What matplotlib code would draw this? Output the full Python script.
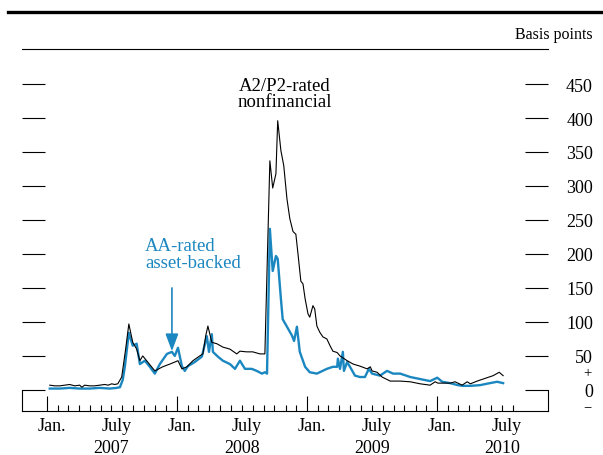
import matplotlib
matplotlib.use('Agg')
import matplotlib.pyplot as plt
import matplotlib.dates as mdates
import matplotlib.transforms as mtransforms
from matplotlib.lines import Line2D
import pandas as pd

plt.rcParams['font.family'] = ['Liberation Serif', 'DejaVu Serif']

# ---------------- data (basis points) ----------------
a2p2_dates = ['2007-01-09', '2007-01-23', '2007-02-06', '2007-02-20', '2007-03-06', '2007-03-20',
              '2007-04-03', '2007-04-09', '2007-04-17', '2007-05-01', '2007-05-15', '2007-05-29',
              '2007-06-12', '2007-06-22', '2007-07-02', '2007-07-10', '2007-07-19', '2007-07-30',
              '2007-08-10', '2007-08-19', '2007-08-30', '2007-09-10', '2007-09-19', '2007-09-27',
              '2007-10-11', '2007-10-31', '2007-11-22', '2007-12-12', '2007-12-26', '2008-01-04',
              '2008-01-15', '2008-01-29', '2008-02-15', '2008-03-05', '2008-03-14', '2008-03-22',
              '2008-03-28', '2008-04-08', '2008-04-22', '2008-05-09', '2008-05-29', '2008-06-17',
              '2008-06-26', '2008-07-15', '2008-08-01', '2008-08-21', '2008-09-04', '2008-09-18',
              '2008-09-26', '2008-10-05', '2008-10-10', '2008-10-19', '2008-10-27', '2008-11-05',
              '2008-11-13', '2008-11-22', '2008-11-30', '2008-12-06', '2008-12-14', '2008-12-20',
              '2008-12-26', '2009-01-03', '2009-01-08', '2009-01-17', '2009-01-22', '2009-01-28',
              '2009-02-05', '2009-02-14', '2009-02-25', '2009-03-06', '2009-03-14', '2009-03-26',
              '2009-04-03', '2009-04-23', '2009-05-10', '2009-05-29', '2009-06-18', '2009-06-27',
              '2009-07-02', '2009-07-16', '2009-07-30', '2009-08-22', '2009-09-19', '2009-10-17',
              '2009-11-14', '2009-12-12', '2009-12-26', '2010-01-03', '2010-02-06', '2010-02-20',
              '2010-03-12', '2010-03-26', '2010-04-04', '2010-04-23', '2010-05-21', '2010-06-07',
              '2010-06-24', '2010-07-05']
a2p2_values = [7, 6, 6, 7, 8, 6,
               7, 4, 7, 6, 6, 7,
               8, 7, 9, 8, 9, 19,
               60, 97, 70, 60, 43, 50,
               41, 28, 34, 38, 41, 43,
               31, 34, 43, 50, 53, 80,
               94, 70, 68, 63, 60, 53,
               57, 56, 56, 53, 53, 337,
               297, 318, 396, 352, 330, 281,
               252, 233, 229, 200, 160, 156,
               134, 112, 107, 124, 119, 94,
               85, 78, 75, 65, 57, 55,
               50, 43, 38, 35, 31, 34,
               28, 26, 19, 13, 13, 12,
               9, 7, 12, 10, 10, 12,
               7, 12, 9, 13, 18, 21,
               26, 21]

aa_abs_dates = ['2007-01-09', '2007-02-06', '2007-03-06', '2007-04-03', '2007-05-01', '2007-05-29',
                '2007-06-26', '2007-07-16', '2007-07-25', '2007-08-02', '2007-08-08', '2007-08-19',
                '2007-08-30', '2007-09-10', '2007-09-19', '2007-10-03', '2007-10-17', '2007-10-31',
                '2007-11-14', '2007-12-04', '2007-12-18', '2007-12-26', '2008-01-04', '2008-01-15',
                '2008-01-23', '2008-02-01', '2008-02-20', '2008-03-11', '2008-03-25', '2008-03-31',
                '2008-04-08', '2008-04-11', '2008-04-25', '2008-05-09', '2008-05-29', '2008-06-12',
                '2008-06-26', '2008-07-10', '2008-07-29', '2008-08-12', '2008-08-27', '2008-09-04',
                '2008-09-10', '2008-09-18', '2008-09-26', '2008-10-05', '2008-10-10', '2008-10-19',
                '2008-10-24', '2008-11-05', '2008-11-19', '2008-11-25', '2008-12-03', '2008-12-11',
                '2008-12-26', '2009-01-08', '2009-01-28', '2009-02-25', '2009-03-14', '2009-03-26',
                '2009-03-28', '2009-04-03', '2009-04-11', '2009-04-14', '2009-04-23', '2009-05-01',
                '2009-05-15', '2009-05-29', '2009-06-12', '2009-06-23', '2009-07-02', '2009-07-24',
                '2009-08-13', '2009-08-30', '2009-09-19', '2009-10-17', '2009-11-14', '2009-12-12',
                '2010-01-01', '2010-01-15', '2010-02-06', '2010-02-28', '2010-03-14', '2010-04-04',
                '2010-05-01', '2010-05-29', '2010-06-18', '2010-07-05']
aa_abs_values = [2, 2, 3, 2, 2, 3,
                 2, 3, 4, 15, 35, 84,
                 65, 68, 38, 43, 34, 24,
                 38, 53, 56, 50, 62, 35,
                 28, 35, 41, 49, 79, 56,
                 82, 56, 49, 43, 38, 31,
                 43, 31, 31, 28, 24, 26,
                 24, 237, 175, 197, 193, 134,
                 104, 93, 80, 72, 93, 56,
                 34, 26, 24, 31, 34, 34,
                 46, 31, 56, 28, 41, 34,
                 21, 19, 19, 31, 24, 21,
                 28, 24, 24, 19, 16, 13,
                 18, 12, 10, 7, 6, 6,
                 7, 10, 12, 10]

y_ticks = [0, 50, 100, 150, 200, 250, 300, 350, 400, 450]
month_label_dates = ['2007-01-15', '2007-07-15', '2008-01-15', '2008-07-15',
                     '2009-01-15', '2009-07-15', '2010-01-15', '2010-07-15']
month_labels = ['Jan.', 'July', 'Jan.', 'July', 'Jan.', 'July', 'Jan.', 'July']
year_label_dates = ['2007-07-01', '2008-07-01', '2009-07-01', '2010-07-01']
year_labels = ['2007', '2008', '2009', '2010']

BLUE = '#1b87c0'
W, H = 603, 456

fig = plt.figure(figsize=(W / 100, H / 100), dpi=100)
ax = fig.add_axes([22 / W, (H - 412) / H, (548 - 22) / W, (412 - 50) / H])

ax.plot(pd.to_datetime(a2p2_dates), a2p2_values, color='black', lw=0.8, zorder=3)
ax.plot(pd.to_datetime(aa_abs_dates), aa_abs_values, color=BLUE, lw=1.7, zorder=2)

ax.set_xlim(pd.Timestamp('2006-10-23'), pd.Timestamp('2010-11-08'))
ax.set_ylim(-31, 501.5)

# spines
for s in ['top', 'bottom']:
    ax.spines[s].set_linewidth(0.8)
for s in ['left', 'right']:
    ax.spines[s].set_linewidth(0.8)
    ax.spines[s].set_bounds(-31, 0)

# y ticks
ax.set_yticks(y_ticks)
ax.set_yticklabels([str(v) for v in y_ticks])
ax.tick_params(axis='y', which='major', direction='in', length=16.5, width=0.8,
               left=True, right=True, labelleft=False, labelright=True,
               pad=32.4, labelsize=13)
for t in ax.yaxis.get_major_ticks():
    t.label2.set_horizontalalignment('right')

# x ticks: tall at January, short at other months
jan_ticks = pd.date_range('2007-01-01', '2010-01-01', freq='YS')
month_ticks = [d for d in pd.date_range('2007-01-01', '2010-08-01', freq='MS') if d.month != 1]
ax.set_xticks(mdates.date2num(jan_ticks))
ax.set_xticks(mdates.date2num(month_ticks), minor=True)
ax.tick_params(axis='x', which='major', direction='in', length=11, width=0.8,
               labelbottom=False, top=False)
ax.tick_params(axis='x', which='minor', direction='in', length=4.5, width=0.8, top=False)

trans_x = mtransforms.blended_transform_factory(ax.transData, ax.transAxes)
for d, lab in zip(month_label_dates, month_labels):
    ax.text(pd.Timestamp(d), (412 - 431) / 362, lab, transform=trans_x,
            ha='center', va='baseline', fontsize=13)
for d, lab in zip(year_label_dates, year_labels):
    ax.text(pd.Timestamp(d), (412 - 453) / 362, lab, transform=trans_x,
            ha='center', va='baseline', fontsize=13)

# +/- signs around zero on the right axis
trans_fy = mtransforms.blended_transform_factory(fig.transFigure, ax.transData)
ax.text(587 / W, 25, '+', transform=trans_fy, ha='center', va='center', fontsize=10.5)
ax.text(587 / W, -14.5, '\u2212', transform=trans_fy, ha='center', va='top', fontsize=10.5)

# header
fig.add_artist(Line2D([8 / W, 1.0], [1 - 13 / H, 1 - 13 / H], transform=fig.transFigure,
                      color='black', lw=2.4))
fig.text(593 / W, 1 - 35 / H, 'Basis points', ha='right', va='center', fontsize=11.5)

# series labels
fig.text(285 / W, 1 - 91 / H, 'A2/P2-rated', ha='center', va='baseline', fontsize=13.5)
fig.text(285 / W, 1 - 107 / H, 'nonfinancial', ha='center', va='baseline', fontsize=13.5)
fig.text(145 / W, 1 - 251 / H, 'AA-rated', ha='left', va='baseline', fontsize=13.5, color=BLUE)
fig.text(145 / W, 1 - 268 / H, 'asset-backed', ha='left', va='baseline', fontsize=13.5, color=BLUE)

ax.annotate('', xy=(pd.Timestamp('2007-12-18'), 57), xytext=(pd.Timestamp('2007-12-18'), 150),
            arrowprops=dict(arrowstyle='-|>,head_width=0.28,head_length=0.75',
                            mutation_scale=14, color=BLUE, lw=1.2,
                            shrinkA=0, shrinkB=0))

fig.savefig('out.png', dpi=100)
